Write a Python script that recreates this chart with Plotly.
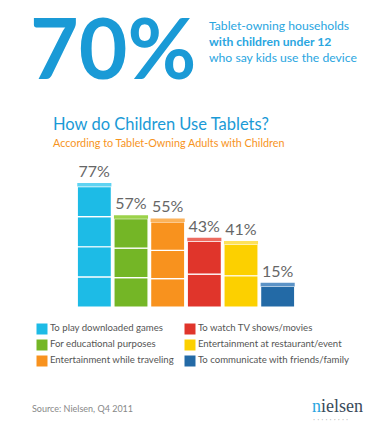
import plotly.graph_objects as go

categories = ["To play downloaded games", "For educational purposes", "Entertainment while traveling",
              "To watch TV shows/movies", "Entertainment at restaurant/event", "To communicate with friends/family"]
values = [77, 57, 55, 43, 41, 15]
cube_counts = [4, 3, 3, 2, 2, 1]
colors = ["#1dbbe6", "#74b626", "#f8921e", "#e0352b", "#fcd000", "#236aa6"]
lid_colors = ["#5fd3f2", "#9bd24a", "#fbb25a", "#ec6a5f", "#fde15a", "#5c93c6"]
legend_col = [0, 0, 0, 1, 1, 1]
legend_row = [0, 1, 2, 0, 1, 2]

W, H = 388, 435
FONT = "Lato"

def px(x):
    return x / W

def py(y):
    return 1 - y / H

fig = go.Figure()
lid = 2.2  # lid thickness in data units (visual style)
for i, v in enumerate(values):
    n = cube_counts[i]
    body = v - lid
    seg = body / n
    fig.add_trace(go.Bar(
        x=[i] * n, y=[seg] * n, base=[k * seg for k in range(n)],
        marker=dict(color=colors[i], line=dict(color="white", width=1.2)),
        width=0.93, hoverinfo="skip", showlegend=False,
    ))
    fig.add_trace(go.Bar(
        x=[i], y=[lid], base=[body],
        marker=dict(color=lid_colors[i], line=dict(width=0)),
        text=[f"{v}%"], textposition="outside", cliponaxis=False,
        textfont=dict(family=FONT, size=16, color="#666666"),
        width=0.93, hoverinfo="skip", showlegend=False,
    ))

# legend drawn as a small scatter on its own axes
fig.add_trace(go.Scatter(
    x=legend_col, y=legend_row, mode="markers+text",
    marker=dict(symbol="square", size=11, color=colors),
    text=categories, textposition="middle right",
    textfont=dict(family=FONT, size=9.6, color="#555555"),
    xaxis="x2", yaxis="y2", hoverinfo="skip", showlegend=False, cliponaxis=False,
))

fig.update_layout(
    width=W, height=H,
    margin=dict(l=0, r=0, t=0, b=0),
    paper_bgcolor="white", plot_bgcolor="white",
    showlegend=False,
    barmode="overlay",
    font=dict(family=FONT, color="#555555"),
    xaxis=dict(domain=[px(76), px(296)], range=[-0.5, 5.5], visible=False, fixedrange=True),
    yaxis=dict(domain=[py(307), py(183)], range=[0, 77], visible=False, fixedrange=True),
    xaxis2=dict(domain=[px(42), px(190)], range=[0, 1], visible=False, fixedrange=True, anchor="y2"),
    yaxis2=dict(domain=[py(361), py(329)], range=[2, 0], visible=False, fixedrange=True, anchor="x2"),
)

ann = [
    dict(text="<b>70%</b>", x=px(28), y=py(47), xanchor="left", yanchor="middle",
         font=dict(family=FONT, size=84, color="#1a9ad6")),
    dict(text="Tablet-owning households<br><b>with children under 12</b><br>who say kids use the device",
         x=px(207), y=py(41), xanchor="left", yanchor="middle", align="left",
         font=dict(family=FONT, size=12.2, color="#2aa6df")),
    dict(text="How do Children Use Tablets?", x=px(51), y=py(124), xanchor="left", yanchor="middle",
         font=dict(family=FONT, size=16.5, color="#1a9ad6")),
    dict(text="According to Tablet-Owning Adults with Children", x=px(51), y=py(142), xanchor="left",
         yanchor="middle", font=dict(family=FONT, size=10.8, color="#f7941d")),
    dict(text="Source: Nielsen, Q4 2011", x=px(30), y=py(408), xanchor="left", yanchor="middle",
         font=dict(family=FONT, size=9, color="#888888")),
    dict(text="<span style='color:#2aa6df'>n</span>ielsen", x=px(310), y=py(406), xanchor="left",
         yanchor="middle", font=dict(family="Liberation Serif", size=18, color="#3a4a5a")),
    dict(text="· · · · · · · · ·", x=px(311), y=py(420), xanchor="left", yanchor="middle",
         font=dict(family="DejaVu Sans", size=6.5, color="#777777")),
]
for a in ann:
    a.update(xref="paper", yref="paper", showarrow=False)
fig.update_layout(annotations=ann)

fig.write_html("out.html", config={"displayModeBar": False},
               post_script="document.body.style.margin='0';")
